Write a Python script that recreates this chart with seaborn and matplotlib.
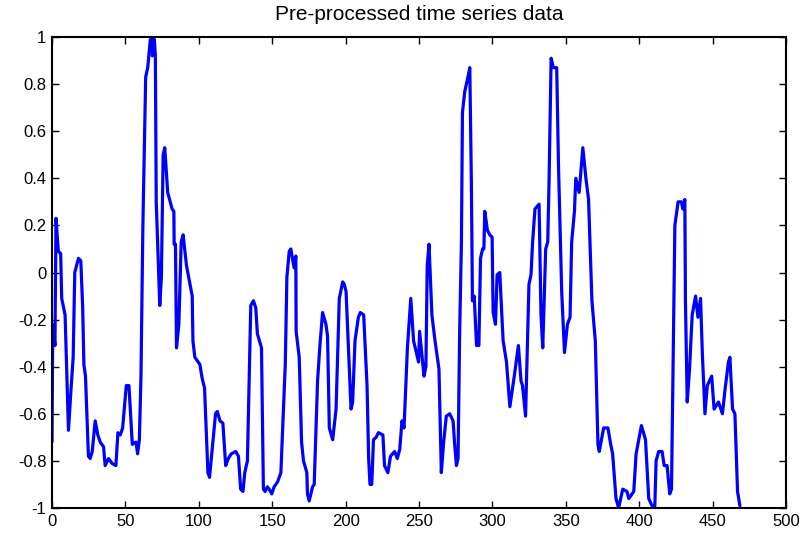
import numpy as np
import pandas as pd
import matplotlib
matplotlib.use("Agg")
import matplotlib.pyplot as plt
import seaborn as sns

# Sample index and normalised value of the pre-processed series
t = [0, 0.5, 2.0, 2.7, 4.3, 5.9, 6.6, 8.9, 11.2, 12.8, 14.4, 15.5, 18.0, 19.6, 20.9, 21.7,
     22.8, 24.8, 26.0, 27.4, 29.4, 31.2, 32.8, 35.1, 36.2, 38.5, 40.8, 43.5, 44.9, 46.5, 48.1,
     50.6, 52.4, 54.7, 57.2, 58.3, 59.5, 60.6, 61.9, 63.8, 65.2, 67.0, 68.2, 68.4, 69.7, 70.4,
     71.0, 73.4, 74.5, 75.7, 76.8, 78.8, 81.8, 83.0, 83.2, 84.1, 84.8, 86.4, 88.0, 89.3, 91.6,
     95.5, 96.0, 97.3, 100.7, 102.3, 103.9, 106.2, 107.3, 111.4, 112.6, 114.4, 116.4, 118.3,
     120.1, 122.1, 125.1, 127.0, 128.5, 130.1, 131.3, 133.1, 135.4, 137.2, 138.8, 139.9, 142.7,
     144.0, 145.2, 146.7, 147.9, 149.7, 151.3, 153.6, 155.9, 158.9, 160.0, 161.6, 162.7, 163.8,
     164.9, 166.1, 166.3, 168.4, 170.0, 171.3, 173.6, 174.0, 175.2, 177.5, 178.6, 180.9, 182.5,
     184.3, 186.6, 187.7, 188.9, 191.2, 193.5, 195.7, 198.0, 199.1, 200.3, 203.7, 204.8, 206.4,
     208.7, 210.0, 212.3, 214.6, 215.7, 216.6, 217.8, 219.0, 220.8, 222.4, 225.4, 226.5, 228.8,
     230.6, 233.4, 235.2, 236.9, 238.4, 239.8, 242.1, 244.4, 246.3, 249.7, 250.4, 253.4, 254.7,
     255.6, 256.8, 258.8, 260.7, 262.5, 263.6, 265.2, 266.8, 268.6, 270.9, 273.2, 274.3, 275.5,
     276.6, 277.7, 278.9, 279.6, 281.2, 283.0, 284.6, 285.7, 286.4, 287.6, 289.2, 290.8, 291.9,
     293.3, 294.2, 294.8, 296.6, 298.2, 299.8, 300.5, 302.1, 303.2, 305.0, 307.3, 309.6, 311.9,
     314.9, 317.7, 319.5, 320.5, 322.6, 324.9, 326.3, 327.4, 329.0, 331.8, 333.1, 334.3, 336.3,
     337.7, 338.6, 340.0, 341.5, 343.8, 345.0, 347.2, 349.1, 351.1, 352.9, 354.0, 355.9, 356.8,
     359.1, 361.6, 363.7, 365.5, 367.8, 370.1, 371.9, 372.8, 375.8, 378.7, 380.3, 381.9, 384.2,
     386.0, 388.8, 391.7, 392.9, 396.3, 397.9, 401.5, 404.3, 406.5, 408.7, 410.6, 411.5, 413.3,
     415.6, 417.0, 419.0, 420.8, 422.0, 424.3, 426.5, 428.8, 429.7, 431.1, 431.5, 432.7, 434.3,
     436.1, 438.4, 440.0, 441.8, 443.0, 444.8, 446.4, 449.4, 451.0, 454.0, 456.7, 458.6, 460.8,
     461.8, 463.6, 465.2, 467.0, 468.6]

value = [-0.72, -0.22, -0.31, 0.23, 0.09, 0.08, -0.11, -0.18, -0.67, -0.51, -0.36, 0.0, 0.06,
         0.05, -0.15, -0.39, -0.44, -0.78, -0.79, -0.76, -0.63, -0.69, -0.72, -0.74, -0.82,
         -0.79, -0.81, -0.82, -0.68, -0.69, -0.66, -0.48, -0.48, -0.73, -0.72, -0.77, -0.71,
         -0.44, 0.2, 0.83, 0.87, 0.99, 0.99, 0.92, 0.99, 0.92, 0.3, -0.14, -0.02, 0.5, 0.53,
         0.34, 0.27, 0.26, 0.12, 0.12, -0.32, -0.22, 0.13, 0.16, 0.03, -0.1, -0.29, -0.36,
         -0.39, -0.45, -0.49, -0.85, -0.87, -0.6, -0.59, -0.63, -0.64, -0.82, -0.79, -0.77,
         -0.76, -0.78, -0.92, -0.93, -0.85, -0.80, -0.14, -0.12, -0.15, -0.26, -0.32, -0.92,
         -0.93, -0.91, -0.92, -0.94, -0.91, -0.89, -0.85, -0.39, -0.02, 0.09, 0.10, 0.06, 0.02,
         0.07, -0.25, -0.36, -0.72, -0.80, -0.85, -0.94, -0.97, -0.91, -0.90, -0.46, -0.31,
         -0.17, -0.22, -0.27, -0.66, -0.71, -0.58, -0.11, -0.04, -0.05, -0.08, -0.58, -0.55,
         -0.29, -0.19, -0.17, -0.18, -0.48, -0.79, -0.90, -0.90, -0.71, -0.70, -0.68, -0.69,
         -0.82, -0.85, -0.78, -0.76, -0.79, -0.75, -0.63, -0.66, -0.32, -0.11, -0.29, -0.38,
         -0.25, -0.44, -0.40, 0.03, 0.12, -0.18, -0.28, -0.36, -0.41, -0.85, -0.72, -0.61,
         -0.60, -0.63, -0.73, -0.82, -0.79, -0.25, 0.13, 0.68, 0.77, 0.82, 0.87, 0.37, -0.12,
         -0.10, -0.31, -0.31, 0.06, 0.10, 0.10, 0.26, 0.18, 0.16, 0.15, -0.17, -0.22, -0.01,
         0.0, -0.29, -0.38, -0.57, -0.44, -0.31, -0.46, -0.48, -0.61, -0.05, -0.01, 0.13, 0.27,
         0.29, -0.18, -0.32, 0.10, 0.13, 0.39, 0.91, 0.87, 0.87, 0.46, -0.08, -0.34, -0.22,
         -0.19, 0.13, 0.26, 0.40, 0.34, 0.53, 0.40, 0.31, -0.12, -0.29, -0.73, -0.76, -0.66,
         -0.66, -0.72, -0.77, -0.96, -1.0, -0.92, -0.93, -0.96, -0.93, -0.77, -0.65, -0.71,
         -0.96, -0.99, -1.0, -0.80, -0.76, -0.76, -0.82, -0.82, -0.94, -0.92, 0.20, 0.30, 0.30,
         0.27, 0.31, -0.12, -0.55, -0.41, -0.18, -0.10, -0.19, -0.11, -0.34, -0.60, -0.48,
         -0.44, -0.58, -0.55, -0.60, -0.49, -0.38, -0.36, -0.58, -0.60, -0.93, -0.99]

x_ticks = [0, 50, 100, 150, 200, 250, 300, 350, 400, 450, 500]
y_ticks = [-1, -0.8, -0.6, -0.4, -0.2, 0, 0.2, 0.4, 0.6, 0.8, 1]

sns.set_style("ticks")
plt.rcParams["font.family"] = ["Liberation Sans", "DejaVu Sans"]
plt.rcParams["axes.unicode_minus"] = False
plt.rcParams["text.color"] = "black"

df = pd.DataFrame({"t": t, "value": value})

fig = plt.figure(figsize=(8.04, 5.35), dpi=100)
ax = fig.add_axes([0.0647, 0.0505, 0.9129, 0.8803])

sns.lineplot(data=df, x="t", y="value", ax=ax, color="#0000ff", linewidth=2.3,
             sort=False, estimator=None)

ax.set_xlim(0, 500)
ax.set_ylim(-1, 1)
ax.set_xticks(x_ticks)
ax.set_yticks(y_ticks)
ax.set_xticklabels([f"{v:g}" for v in x_ticks])
ax.set_yticklabels([f"{v:g}" for v in y_ticks])
ax.set_xlabel("")
ax.set_ylabel("")
ax.tick_params(direction="in", length=5, width=1, top=True, right=True,
               labelsize=12, colors="black", pad=4)
for s in ax.spines.values():
    s.set_visible(True)
    s.set_linewidth(1.5)
    s.set_color("black")

ax.set_title("Pre-processed time series data", fontsize=15, pad=12, color="black")

fig.savefig("out.png", dpi=100)
